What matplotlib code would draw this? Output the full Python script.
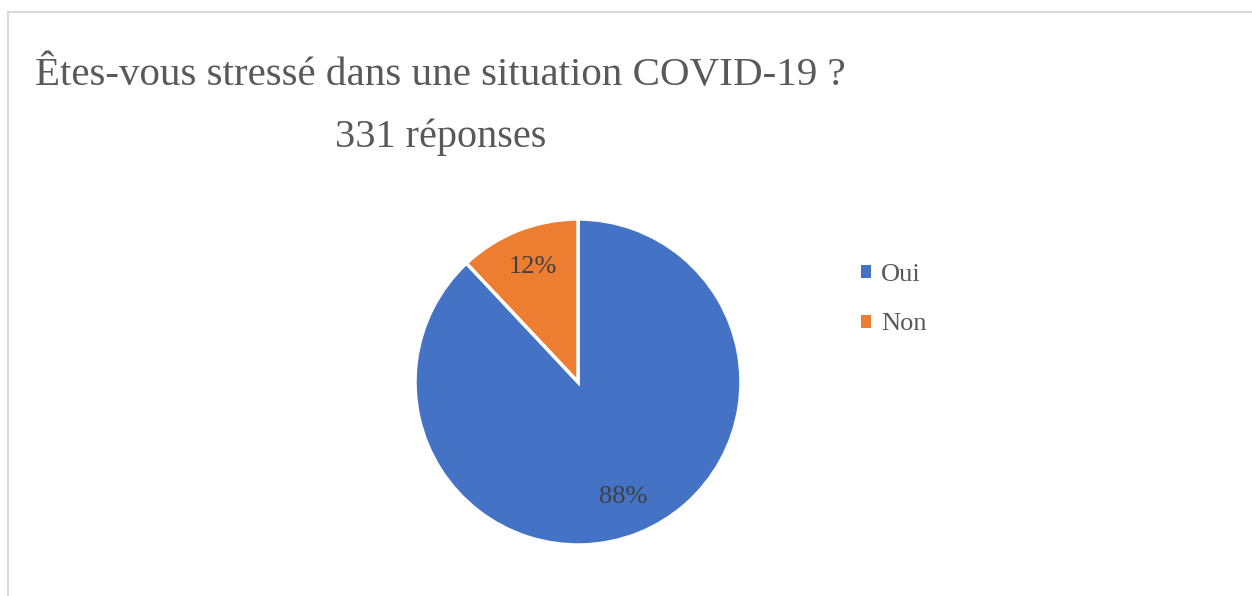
import matplotlib.pyplot as plt
from matplotlib.lines import Line2D

categories = ["Oui", "Non"]
values = [88, 12]
colors = ["#4472C4", "#ED7D31"]
title = "Êtes-vous stressé dans une situation COVID-19 ?"
subtitle = "331 réponses"

plt.rcParams["font.family"] = ["Liberation Serif", "DejaVu Serif"]

fig = plt.figure(figsize=(12.52, 5.96), dpi=100)

# cadre gris clair (haut et gauche seulement visibles)
fig.add_artist(Line2D([8 / 1252, 1.0], [1 - 12 / 596] * 2, color="#D9D9D9", lw=1.5))
fig.add_artist(Line2D([8 / 1252] * 2, [0.0, 1 - 12 / 596], color="#D9D9D9", lw=1.5))

fig.text(35 / 1252, 1 - 76 / 596, title, fontsize=29.5, color="#595959", va="center", ha="left")
fig.text(441 / 1252, 1 - 137 / 596, subtitle, fontsize=29, color="#595959", va="center", ha="center")

# axe du camembert : centre (578, 382), rayon 163 px
r = 163
ax = fig.add_axes([(578 - r) / 1252, (596 - 382 - r) / 596, 2 * r / 1252, 2 * r / 596])
wedges, texts, autotexts = ax.pie(
    values, colors=colors, startangle=90, counterclock=False,
    autopct="%1.0f%%", pctdistance=0.76, radius=1,
    wedgeprops=dict(edgecolor="white", linewidth=2.5),
    textprops=dict(fontsize=19, color="#404040"),
)
ax.set_xlim(-1, 1)
ax.set_ylim(-1, 1)
ax.set_aspect("equal")
ax.axis("off")

leg = fig.legend(
    wedges, categories, loc="upper left", bbox_to_anchor=(837 / 1252, 1 - 240 / 596),
    frameon=False, fontsize=19, handlelength=0.38, handleheight=0.38,
    handletextpad=0.4, labelspacing=1.05,
)
for t in leg.get_texts():
    t.set_color("#595959")
for h in leg.legend_handles:
    h.set_edgecolor("none")

fig.savefig("out.png", dpi=100)
